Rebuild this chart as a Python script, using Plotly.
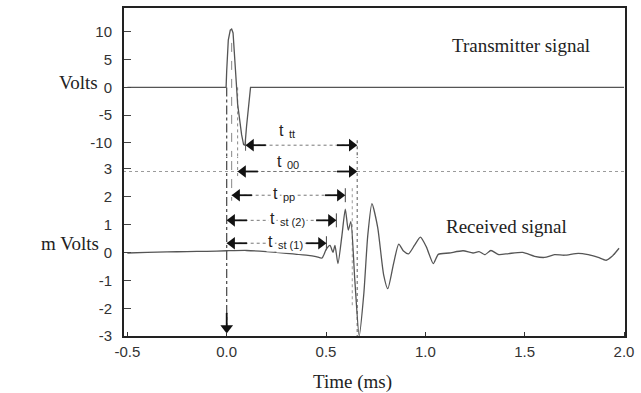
import plotly.graph_objects as go

# ---------------- data ----------------
tx_time = [-0.5, -0.003, 0.0, 0.008, 0.018, 0.025, 0.032, 0.04, 0.048, 0.055,
           0.065, 0.075, 0.085, 0.092, 0.1, 0.11, 0.12, 2.0]
tx_volts = [0.0, 0.0, 3.0, 8.5, 10.3, 10.5, 9.8, 6.0, 1.0, -3.0,
            -6.0, -8.5, -10.3, -10.4, -7.0, -3.0, 0.0, 0.0]

rx_time = [-0.5, -0.4, -0.3, -0.2, -0.1, 0.0, 0.1, 0.2, 0.3, 0.4, 0.45, 0.48,
           0.5, 0.52, 0.535, 0.545, 0.56, 0.58, 0.597, 0.612, 0.625, 0.645,
           0.667, 0.69, 0.71, 0.731, 0.76, 0.79, 0.811, 0.84, 0.866, 0.89,
           0.915, 0.945, 0.975, 1.005, 1.04, 1.065, 1.12, 1.19, 1.24, 1.27,
           1.30, 1.33, 1.37, 1.42, 1.49, 1.55, 1.60, 1.65, 1.70, 1.77, 1.82,
           1.87, 1.91, 1.94, 1.975]
rx_mv = [-0.02, 0.0, 0.02, 0.03, 0.04, 0.06, 0.07, 0.03, -0.03, -0.1, -0.15, -0.2,
         0.1, 0.25, 0.0, 0.25, -0.4, 0.6, 1.55, 0.8, 1.1, -1.0,
         -3.0, -1.5, 0.6, 1.75, 0.9, -0.8, -1.3, -0.4, 0.3, 0.05,
         -0.05, 0.25, 0.55, 0.2, -0.4, -0.07, -0.02, 0.06, -0.02, 0.03,
         -0.08, 0.07, -0.08, -0.04, 0.0, -0.14, -0.18, -0.08, -0.1, -0.03, -0.08,
         -0.18, -0.28, -0.14, 0.15]

# interval markers: subscript, start time, end time, level, axis ('v' = Volts panel, 'mv' = mV panel)
iv_subs = ["tt", "00", "pp", "st (2)", "st (1)"]
iv_start = [0.095, 0.055, 0.025, 0.0, 0.0]
iv_end = [0.657, 0.657, 0.597, 0.552, 0.502]
iv_level = [-10.4, 2.9, 2.05, 1.15, 0.33]
iv_axis = ["v", "mv", "mv", "mv", "mv"]
iv_label_time = [0.30, 0.29, 0.27, 0.255, 0.245]
iv_label_level = [-8.1, 3.2, 2.05, 1.15, 0.33]
iv_label_onl = [False, False, True, True, True]

x_tickvals = [-0.5, 0.0, 0.5, 1.0, 1.5, 2.0]
x_ticktext = ["-0.5", "0.0", "0.5", "1.0", "1.5", "2.0"]
v_tickvals = [10, 5, 0, -5, -10]
v_ticktext = ["10", "5", "0", "-5", "-10"]
mv_tickvals = [3, 2, 1, 0, -1, -2, -3]
mv_ticktext = ["3", "2", "1", "0", "-1", "-2", "-3"]

V_RANGE = [-12.52, 14.46]
MV_RANGE = [-3.03, 3.42]
X_RANGE = [-0.522, 2.01]
SPLIT = 0.5455
PLOT_W, PLOT_H = 509, 330

PX_X = (X_RANGE[1] - X_RANGE[0]) / PLOT_W            # ms per pixel
PX_MV = (MV_RANGE[1] - MV_RANGE[0]) / (PLOT_H * SPLIT)  # mV per pixel

fig = go.Figure()

LINE_GRAY = "#8a8a8a"
SIG = "#555555"
HEAD = 11     # arrowhead size (px)
STUB = 15     # solid stub behind arrowhead (px)


def yname(axis):
    return "y" if axis == "v" else "y2"


def seg(xs, ys, axis, dash="dash", color=LINE_GRAY, width=1.0):
    fig.add_trace(go.Scatter(x=xs, y=ys, mode="lines", yaxis=yname(axis),
                             line=dict(color=color, width=width, dash=dash),
                             hoverinfo="skip", showlegend=False))


def head(x, y, axis, symbol):
    fig.add_trace(go.Scatter(x=[x], y=[y], mode="markers", yaxis=yname(axis),
                             marker=dict(symbol=symbol, size=HEAD, color="#111111",
                                         line=dict(width=0)),
                             hoverinfo="skip", showlegend=False))


# reference line on mV panel at t_00 level
seg([X_RANGE[0], X_RANGE[1]], [iv_level[1], iv_level[1]], "mv", dash="dot", color="#9a9a9a")

# t = 0 dash-dot line crossing both panels, ending in a down arrow
seg([0.0, 0.0], [0.0, V_RANGE[0] - 1], "v", dash="dashdot", color="#444444", width=1.2)
seg([0.0, 0.0], [MV_RANGE[1] + 0.5, -2.75], "mv", dash="dashdot", color="#444444", width=1.2)
seg([0.0, 0.0], [-2.9 + (HEAD / 2) * PX_MV, -2.9 + (HEAD / 2 + STUB) * PX_MV], "mv",
    dash="solid", color="#111111", width=1.8)
head(0.0, -2.9 + (HEAD / 2) * PX_MV, "mv", "triangle-down")

# end bar of t_tt / t_00 continuing down through mV panel
seg([iv_end[0]] * 2, [iv_level[0] + 0.9, V_RANGE[0] - 1], "v", dash="dot", color="#666666", width=1.2)
seg([iv_end[0]] * 2, [MV_RANGE[1] + 0.5, MV_RANGE[0]], "mv", dash="dot", color="#777777", width=1.2)
seg([iv_end[0] - 0.025] * 2, [2.3, -2.0], "mv", dash="dot", color="#9a9a9a")

# start bars
seg([iv_start[0]] * 2, [iv_level[0] + 0.9, iv_level[0] - 1.0], "v", dash="solid", color="#555555")
seg([iv_start[1]] * 2, [0.0, V_RANGE[0] - 1], "v", dash="dot", color="#888888")
seg([iv_start[1]] * 2, [MV_RANGE[1] + 0.5, iv_level[1] - 0.2], "mv", dash="dot", color="#888888")
seg([iv_start[2]] * 2, [8.0, V_RANGE[0] - 1], "v", dash="dash", color="#888888")
seg([iv_start[2]] * 2, [MV_RANGE[1] + 0.5, iv_level[2] - 0.2], "mv", dash="dash", color="#888888")

# end bars for mV intervals
for k in (2, 3, 4):
    seg([iv_end[k]] * 2, [iv_level[k] + 0.25, iv_level[k] - 0.25], "mv", dash="solid", color="#444444")

# signals
fig.add_trace(go.Scatter(x=tx_time, y=tx_volts, mode="lines", yaxis="y",
                         line=dict(color=SIG, width=1.3), hoverinfo="skip", showlegend=False))
fig.add_trace(go.Scatter(x=rx_time, y=rx_mv, mode="lines", yaxis="y2",
                         line=dict(color=SIG, width=1.3, shape="spline", smoothing=0.6),
                         hoverinfo="skip", showlegend=False))

annotations = []
lab_font = dict(family="Liberation Sans", size=16, color="#222222")
sub_font = dict(family="Liberation Sans", size=11, color="#222222")
# interval dotted lines + arrowheads + labels
for sub, t0, t1, lev, ax_, lt, ll, onl in zip(iv_subs, iv_start, iv_end, iv_level, iv_axis,
                                              iv_label_time, iv_label_level, iv_label_onl):
    seg([t0, t1], [lev, lev], ax_, dash="dot", color="#777777")
    h0 = t0 + (HEAD / 2) * PX_X
    h1 = t1 - (HEAD / 2) * PX_X
    seg([h0, h0 + STUB * PX_X], [lev, lev], ax_, dash="solid", color="#111111", width=1.8)
    seg([h1, h1 - STUB * PX_X], [lev, lev], ax_, dash="solid", color="#111111", width=1.8)
    head(h0, lev, ax_, "triangle-left")
    head(h1, lev, ax_, "triangle-right")
    bg = "white" if onl else "rgba(0,0,0,0)"
    annotations.append(dict(x=lt, y=ll, xref="x", yref=yname(ax_), text="t", showarrow=False,
                            font=lab_font, xanchor="right", yanchor="middle",
                            bgcolor=bg, borderpad=1, yshift=2))
    annotations.append(dict(x=lt, y=ll, xref="x", yref=yname(ax_), text=sub, showarrow=False,
                            font=sub_font, xanchor="left", yanchor="middle",
                            bgcolor=bg, borderpad=1, xshift=1, yshift=-2))

serif = dict(family="Liberation Serif", size=19, color="#222222")
annotations += [
    dict(x=1.48, y=7.6, xref="x", yref="y", text="Transmitter signal", showarrow=False, font=serif),
    dict(x=1.41, y=0.94, xref="x", yref="y2", text="Received signal", showarrow=False, font=serif),
    dict(x=(56 - 123) / PLOT_W, y=0.8, xref="paper", yref="y", text="Volts", showarrow=False, font=serif),
    dict(x=(38 - 123) / PLOT_W, y=0.33, xref="paper", yref="y2", text="m Volts", showarrow=False, font=serif),
    dict(x=(355 - 123) / PLOT_W, y=-(382 - 337) / PLOT_H, xref="paper", yref="paper", text="Time (ms)",
         showarrow=False, font=serif, yanchor="middle"),
]

tickfont = dict(family="Liberation Sans", size=15, color="#333333")

fig.update_layout(
    width=641, height=393,
    margin=dict(l=123, r=9, t=7, b=56),
    paper_bgcolor="white", plot_bgcolor="white",
    showlegend=False,
    xaxis=dict(range=X_RANGE, anchor="y2", showgrid=False, zeroline=False, showline=False,
               tickvals=x_tickvals, ticktext=x_ticktext, ticks="inside", ticklen=5,
               tickcolor="#333333", tickfont=tickfont, ticklabelstandoff=4),
    yaxis=dict(domain=[SPLIT, 1.0], range=V_RANGE, anchor="x", showgrid=False, zeroline=False,
               showline=False, tickvals=v_tickvals, ticktext=v_ticktext, ticks="inside",
               ticklen=8, tickcolor="#444444", tickfont=tickfont, ticklabelstandoff=10),
    yaxis2=dict(domain=[0.0, SPLIT], range=MV_RANGE, anchor="x", showgrid=False, zeroline=False,
                showline=False, tickvals=mv_tickvals, ticktext=mv_ticktext, ticks="inside",
                ticklen=8, tickcolor="#444444", tickfont=tickfont, ticklabelstandoff=10),
    annotations=annotations,
    shapes=[dict(type="rect", xref="paper", yref="paper", x0=0, x1=1, y0=0, y1=1,
                 line=dict(color="#222222", width=2), layer="above")],
)

fig.write_html("out.html")
